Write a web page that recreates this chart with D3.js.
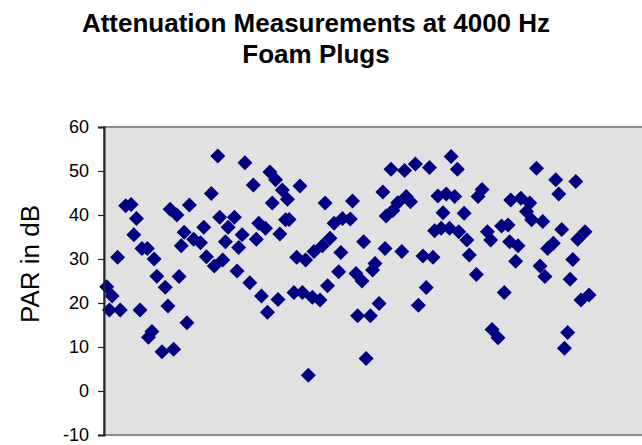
<!DOCTYPE html>
<html><head><meta charset="utf-8">
<script src="https://cdn.jsdelivr.net/npm/d3@7"></script>
<style>body{margin:0;background:#fff}svg{display:block}text{font-family:"Liberation Sans",Arial,sans-serif}</style>
</head><body><svg id="c" width="642" height="445"></svg>
<script>
const titleLines = ["Attenuation Measurements at 4000 Hz", "Foam Plugs"];
const yLabel = "PAR in dB";
const yTicks = [-10, 0, 10, 20, 30, 40, 50, 60];
// sample number (x) and PAR in dB (y)
const sampleNo = [1,3,2,6,5,8,10,12,11,14,16,18.5,19.5,22.6,13.3,17.7,16.4,21.4,25.7,23.6,27.7,30.6,24.4,26.9,31.5,29.6,28.5,33.1,
42,52,61.2,63.3,55.1,39.6,65.8,62.1,42.7,48.1,36.8,45.8,57.1,59.6,64.9,67,35.6,44.8,51,49.7,56.2,37.8,40.7,43.8,49.1,53.8,58.1,64.2,60.3,
67.7,72.3,81.6,91.7,68.3,84.9,88,90.9,95.8,83.4,80.6,77.5,87.4,71.1,74.4,86.6,93,95.2,100,82.5,70.1,73.2,76.9,79.7,93.6,98.3,96.7,75.4,
105.9,110.9,114.9,120.1,128.1,130.4,102.9,111.5,113.1,108.4,106.6,104.1,123.2,126.3,129.4,125.1,132.9,122,124.4,127.5,130.9,133.9,103.7,109.9,117.7,121.4,99.1,118.9,116,101.5,134.8,
159.6,139.5,138,166.7,167.8,150.1,153.8,157.1,155.9,157.8,161.9,146.7,149.1,141.5,142.7,149.7,152.8,163.7,165.8,151.9,160.9,162.7,137.4,147.7,143.2,145.4,
174.1,168.9,174.8,177.5,173,172,176,179,171.1,169.9];
const par = [23.7,21.6,18.4,18.4,30.4,42.1,42.4,39.2,35.5,32.4,32.4,30.0,26.1,23.6,18.4,13.5,12.2,8.9,9.5,19.3,26.0,15.5,41.3,40.0,42.3,36.1,33.0,34.5,
53.4,51.9,49.8,48.0,46.8,44.9,45.7,42.7,39.5,39.5,37.2,37.2,38.1,37.0,35.7,38.9,33.7,33.9,35.5,32.6,34.5,30.5,28.4,29.8,27.3,24.6,21.6,20.8,17.9,
43.6,46.6,42.7,43.2,39.0,38.1,39.2,39.1,33.9,34.7,33.0,31.7,31.5,30.4,29.8,27.1,26.7,25.0,29.0,23.9,22.4,22.4,21.3,20.7,17.1,17.1,7.4,3.6,
50.4,50.1,51.6,50.8,53.3,50.4,45.2,44.2,43.0,42.8,41.0,39.8,44.3,44.8,44.2,40.5,40.4,36.4,37.0,37.0,36.2,34.3,32.4,31.7,30.7,30.4,27.5,23.5,19.5,19.9,30.9,
50.6,45.8,44.2,48.0,44.8,43.4,43.8,42.7,40.8,38.9,38.5,37.5,37.7,36.2,34.3,33.9,33.0,32.4,33.6,29.5,28.4,26.0,26.5,22.4,14.0,12.1,
47.6,36.7,34.5,36.2,29.9,25.4,20.7,21.8,13.3,9.7];

const svg = d3.select("#c");
const L = 104, T = 127, B = 435, R = 646;
const x = d3.scaleLinear().domain([0, 200]).range([L, R]);
const y = d3.scaleLinear().domain([-10, 60]).range([B, T]);

svg.append("rect").attr("x", L).attr("y", T).attr("width", R - L).attr("height", B - T)
  .attr("fill", "#e1e1e1").attr("stroke", "#8c8c8c").attr("stroke-width", 2);

svg.append("g").selectAll("path").data(sampleNo.map((s, i) => [s, par[i]])).join("path")
  .attr("d", "M0,-7.5L7.5,0L0,7.5L-7.5,0Z")
  .attr("transform", d => `translate(${x(d[0])},${y(d[1])})`)
  .attr("fill", "#000080");

const ax = svg.append("g").attr("transform", `translate(${L},0)`)
  .call(d3.axisLeft(y).tickValues(yTicks).tickSize(6).tickPadding(9).tickFormat(d => String(d)));
ax.select(".domain").attr("stroke", "#222").attr("stroke-width", 2);
ax.selectAll(".tick line").attr("stroke", "#222").attr("stroke-width", 1.2);
ax.selectAll(".tick text").attr("font-size", 18).attr("fill", "#000")
  .style("font-family", "'Liberation Sans', Arial, sans-serif");

svg.append("text").attr("x", 316).attr("y", 32).attr("text-anchor", "middle")
  .attr("font-size", 26).attr("font-weight", "bold").text(titleLines[0]);
svg.append("text").attr("x", 316).attr("y", 63).attr("text-anchor", "middle")
  .attr("font-size", 26).attr("font-weight", "bold").text(titleLines[1]);

svg.append("text").attr("transform", "translate(39,264) rotate(-90)").attr("text-anchor", "middle")
  .attr("font-size", 26).text(yLabel);
</script></body></html>
